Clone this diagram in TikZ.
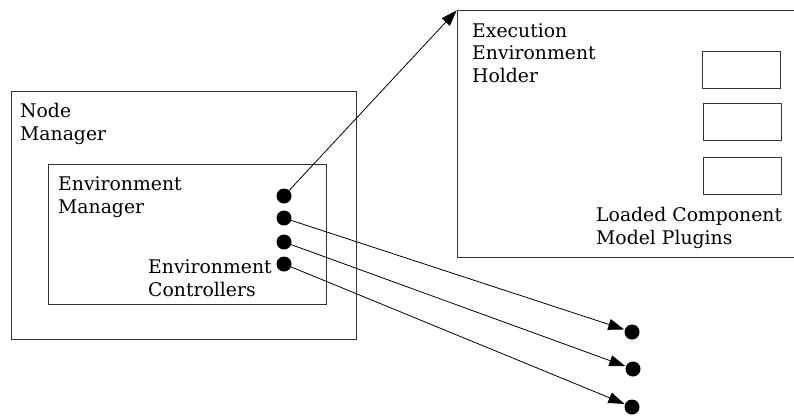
\documentclass[tikz,border=0pt]{standalone}
\usepackage{fontspec}
\setmainfont{DejaVu Serif}
\usetikzlibrary{arrows.meta}
\tikzset{
  box/.style={draw=black!80, line width=1pt},
  dot/.style={circle, fill=black, inner sep=0pt, minimum size=15pt},
  lbl/.style={anchor=base west, inner sep=0pt, align=left, font=\fontsize{18.8}{22.5}\selectfont},
  conn/.style={draw=black, line width=0.8pt, -{Triangle[length=16pt,width=11pt]}, shorten >=0.5pt}
}
\begin{document}
\begin{tikzpicture}[x=1pt,y=-1pt]
\useasboundingbox (0,0) rectangle (794,416);
\fill[white] (0,0) rectangle (794,416);
% boxes
\draw[box] (11,91) rectangle (356,339);
\draw[box] (48,164) rectangle (326,304);
\draw[box] (457,10) rectangle (800,257);
\draw[box] (702,51) rectangle (780,88);
\draw[box] (703,103) rectangle (781,140);
\draw[box] (703,157) rectangle (781,194);
\coordinate (holder) at (457,10);
% labels (anchored at the baseline of the last line)
\node[lbl] (nm) at (20,140) {Node\\Manager};
\node[lbl] (em) at (58,213) {Environment\\Manager};
\node[lbl] (ec) at (148,296) {Environment\\Controllers};
\node[lbl] (eh) at (472,82) {Execution\\Environment\\Holder};
\node[lbl] (lc) at (596,244) {Loaded Component\\Model Plugins};
% dots
\node[dot] (d1) at (284,196) {};
\node[dot] (d2) at (284,218) {};
\node[dot] (d3) at (284,242) {};
\node[dot] (d4) at (284,264) {};
\node[dot] (t1) at (632,332) {};
\node[dot] (t2) at (633,369) {};
\node[dot] (t3) at (632,407) {};
% connectors
\draw[conn] (d1) -- (holder);
\draw[conn] (d2) -- (t1);
\draw[conn] (d3) -- (t2);
\draw[conn] (d4) -- (t3);
\end{tikzpicture}
\end{document}
